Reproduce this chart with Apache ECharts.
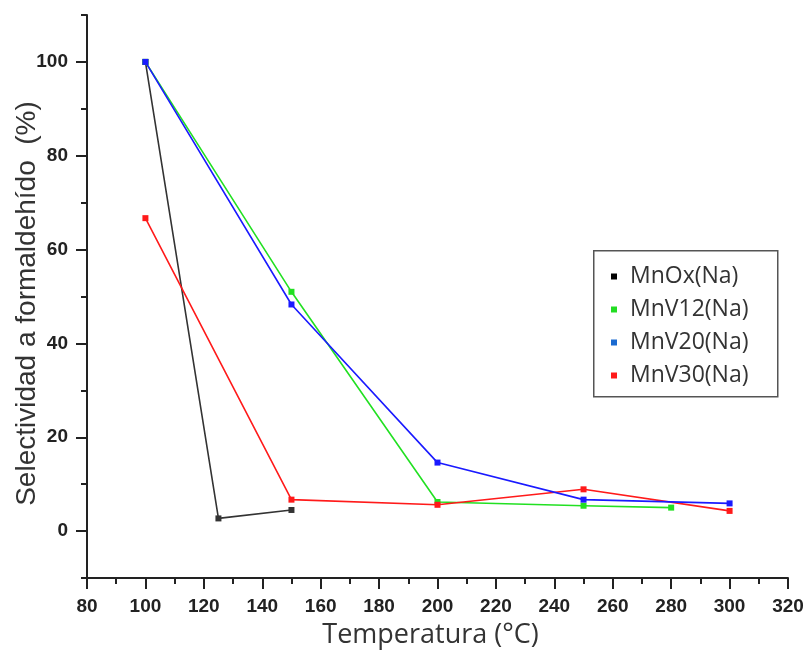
<!DOCTYPE html>
<html>
<head>
<meta charset="utf-8">
<script src="https://cdn.jsdelivr.net/npm/echarts@6/dist/echarts.min.js"></script>
<style>html,body{margin:0;padding:0;background:#fff;}#c{width:809px;height:651px;}</style>
</head>
<body>
<div id="c"></div>
<script>
const seriesNames = ['MnOx(Na)', 'MnV12(Na)', 'MnV20(Na)', 'MnV30(Na)'];
const mnOxX = [100, 125, 150];
const mnOxY = [100, 2.7, 4.5];
const mnV12X = [100, 150, 200, 250, 280];
const mnV12Y = [100, 51.0, 6.2, 5.4, 5.0];
const mnV20X = [100, 150, 200, 250, 300];
const mnV20Y = [100, 48.3, 14.6, 6.7, 5.9];
const mnV30X = [100, 150, 200, 250, 300];
const mnV30Y = [66.7, 6.7, 5.6, 8.9, 4.3];
const yMajorTicks = [0, 20, 40, 60, 80, 100];
const yMinorTicks = [-10, 10, 30, 50, 70, 90, 110];

const colors = ['#333333', '#22e022', '#1a1aff', '#ff1a1a'];
const legendColors = ['#000000', '#22dd22', '#1a6ad0', '#ff1a1a'];
const zip = (xs, ys) => xs.map((x, i) => [x, ys[i]]);
const datasets = [zip(mnOxX, mnOxY), zip(mnV12X, mnV12Y), zip(mnV20X, mnV20Y), zip(mnV30X, mnV30Y)];
const order = [0, 1, 3, 2];

const chart = echarts.init(document.getElementById('c'));
const axisLine = { show: true, onZero: false, lineStyle: { color: '#222', width: 2 } };
const tickFont = { fontFamily: 'Liberation Sans', fontWeight: 'bold', fontSize: 19, color: '#222' };
chart.setOption({
  animation: false,
  backgroundColor: '#fff',
  grid: { left: 87, right: 21, top: 15, bottom: 73, containLabel: false, outerBoundsMode: 'none' },
  graphic: [{
    type: 'rect', left: 593, top: 250, z: 0,
    shape: { width: 184, height: 146 },
    style: { fill: '#fff', stroke: '#555', lineWidth: 1.5 }
  }],
  legend: {
    data: seriesNames.map((n, i) => ({ name: n, itemStyle: { color: legendColors[i] } })),
    orient: 'vertical',
    left: 611, top: 265,
    padding: 0,
    itemGap: 10,
    itemWidth: 6, itemHeight: 6,
    icon: 'rect',
    z: 5,
    textStyle: { fontFamily: 'Open Sans', fontSize: 23, lineHeight: 23, color: '#333', padding: [0, 0, 0, 8] }
  },
  xAxis: {
    type: 'value', min: 80, max: 320, interval: 20,
    name: 'Temperatura (°C)', nameLocation: 'middle', nameGap: 44, nameMoveOverlap: false,
    nameTextStyle: { fontFamily: 'Open Sans', fontSize: 27, color: '#333', padding: [0, 14, 0, 0] },
    axisLine: axisLine,
    axisTick: { show: true, inside: false, length: 11, lineStyle: { color: '#222', width: 2 } },
    minorTick: { show: true, splitNumber: 2, length: 6, lineStyle: { color: '#222', width: 2 } },
    axisLabel: Object.assign({ margin: 19 }, tickFont),
    splitLine: { show: false }
  },
  yAxis: [{
    type: 'value', min: -10, max: 110,
    name: 'Selectividad a formaldehído  (%)', nameLocation: 'middle', nameGap: 46, nameRotate: 90, nameMoveOverlap: false,
    nameTextStyle: { fontFamily: 'Liberation Sans', fontSize: 28, color: '#333', padding: [0, 14, 0, 0] },
    axisLine: axisLine,
    axisTick: { show: true, length: 11, customValues: yMajorTicks, lineStyle: { color: '#222', width: 2 } },
    axisLabel: Object.assign({ margin: 19, customValues: yMajorTicks }, tickFont),
    splitLine: { show: false }
  }, {
    type: 'value', min: -10, max: 110, position: 'left',
    axisLine: { show: false },
    axisTick: { show: true, length: 6, customValues: yMinorTicks, lineStyle: { color: '#222', width: 2 } },
    axisLabel: { show: false },
    splitLine: { show: false }
  }],
  series: order.map(i => ({
    name: seriesNames[i],
    type: 'line',
    data: datasets[i],
    yAxisIndex: 0,
    symbol: 'rect', symbolSize: 6,
    lineStyle: { color: colors[i], width: 1.6 },
    itemStyle: { color: colors[i] },
    z: 2 + order.indexOf(i)
  }))
});
</script>
</body>
</html>
